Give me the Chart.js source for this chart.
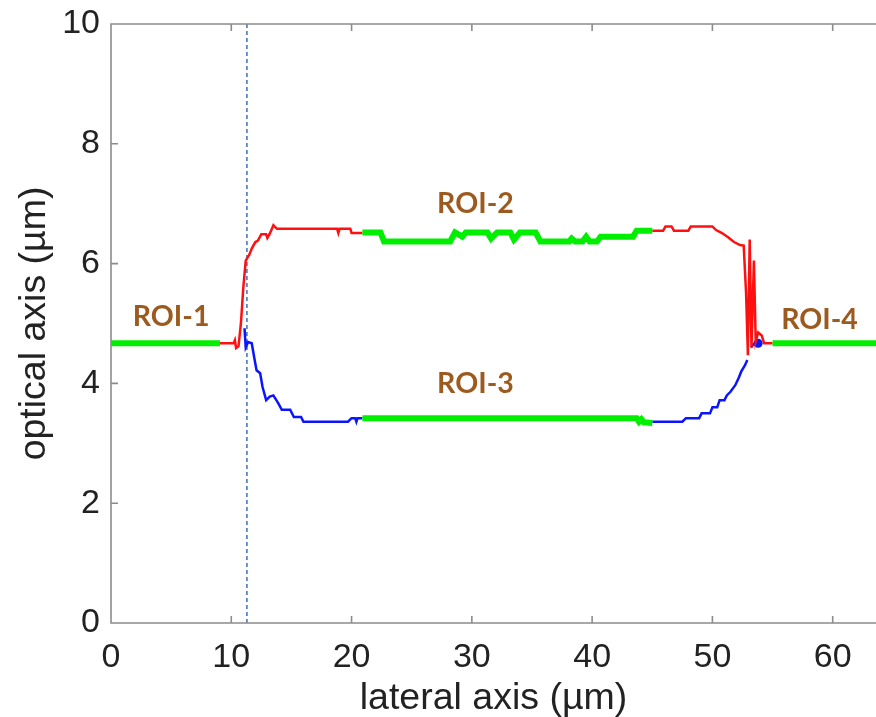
<!DOCTYPE html>
<html>
<head>
<meta charset="utf-8">
<script src="https://cdn.jsdelivr.net/npm/chart.js@4/dist/chart.umd.min.js"></script>
<style>
  html, body { margin: 0; padding: 0; background: #fff; overflow: hidden; }
  canvas { display: block; }
</style>
</head>
<body>
<canvas id="profile" width="876" height="717"></canvas>
<script>
// boundary profile (lateral um, optical um)
const roi1 = [[0, 4.67], [9.06, 4.67]];
const roi2 = [[20.9, 6.52], [22.4, 6.52], [22.7, 6.37], [28.2, 6.37], [28.6, 6.52], [29.2, 6.45], [29.5, 6.52],
  [31.3, 6.52], [31.6, 6.42], [32.1, 6.52], [33.2, 6.52], [33.5, 6.4], [34.0, 6.52], [35.3, 6.52], [35.7, 6.37],
  [38.1, 6.37], [38.3, 6.42], [38.6, 6.37], [39.2, 6.37], [39.5, 6.45], [39.8, 6.37], [40.4, 6.37], [40.7, 6.45],
  [43.4, 6.45], [43.7, 6.55], [45.0, 6.55]];
const roi3 = [[20.9, 3.42], [43.7, 3.42], [43.9, 3.36], [44.1, 3.4], [44.3, 3.35], [45.0, 3.34]];
const roi4 = [[55.0, 4.67], [64, 4.67]];

const upperLeft = [[9.06, 4.67], [10.2, 4.67], [10.3, 4.72], [10.4, 4.59], [10.6, 4.62], [10.8, 5.0], [11.0, 5.6],
  [11.2, 6.05], [11.5, 6.15], [11.7, 6.25], [12.0, 6.36], [12.2, 6.38], [12.5, 6.49], [12.9, 6.49], [13.0, 6.43],
  [13.2, 6.5], [13.5, 6.64], [13.8, 6.58], [18.8, 6.58], [18.9, 6.51], [19.0, 6.58], [19.9, 6.58], [20.0, 6.51],
  [20.9, 6.51]];
const upperRight = [[45.0, 6.55], [45.9, 6.55], [46.1, 6.62], [46.6, 6.62], [46.8, 6.55], [48.0, 6.55], [48.2, 6.62],
  [50.0, 6.62], [50.3, 6.56], [50.8, 6.51], [51.3, 6.44], [51.8, 6.36], [52.3, 6.31], [52.6, 6.3], [52.8, 5.5],
  [52.95, 4.47], [53.1, 6.4], [53.25, 4.6], [53.45, 6.05], [53.6, 4.7], [53.8, 4.85], [54.1, 4.8], [54.3, 4.67],
  [55.0, 4.67]];

const lowerLeft = [[11.1, 4.92], [11.2, 4.6], [11.4, 4.69], [11.7, 4.67], [11.9, 4.44], [12.1, 4.22], [12.4, 4.17],
  [12.6, 3.94], [12.9, 3.72], [13.2, 3.78], [13.5, 3.8], [13.9, 3.67], [14.2, 3.56], [14.9, 3.56], [15.2, 3.44],
  [15.8, 3.44], [16.0, 3.36], [19.7, 3.36], [20.0, 3.42], [20.3, 3.42], [20.4, 3.36], [20.5, 3.42], [20.9, 3.42]];
const lowerRight = [[45.0, 3.36], [47.5, 3.36], [47.8, 3.42], [48.9, 3.42], [49.1, 3.5], [49.8, 3.5], [50.0, 3.6],
  [50.4, 3.6], [50.6, 3.72], [51.0, 3.72], [51.2, 3.8], [51.5, 3.86], [51.9, 3.97], [52.2, 4.1], [52.4, 4.2],
  [52.7, 4.3], [52.9, 4.39]];
const lowerTail = [[53.2, 4.6], [53.5, 4.67], [53.7, 4.69]];
const lowerDot = [[53.8, 4.67]];

const dashLineX = 11.3;

const roiNames = ['ROI-1', 'ROI-2', 'ROI-3', 'ROI-4'];
const roiX = [5.0, 30.3, 30.3, 58.9];
const roiY = [5.11, 7.0, 3.99, 5.06];

const xTicks = [0, 10, 20, 30, 40, 50, 60];
const yTicks = [0, 2, 4, 6, 8, 10];

const pts = arr => arr.map(p => ({x: p[0], y: p[1]}));

const GREEN = '#00ee00', RED = '#ff1010', BLUE = '#0a14ff', AXIS = '#8c8c8c';
const FONT = '"Liberation Sans", Arial, sans-serif';

function curve(data, color, width, order) {
  return {data: pts(data), showLine: true, borderColor: color, backgroundColor: color,
    borderWidth: width, pointRadius: 0, tension: 0, order: order};
}

// MATLAB style axes with inward ticks (right side is cut off in the figure), plus ROI labels
const boxPlugin = {
  id: 'box',
  afterDatasetsDraw(chart) {
    const {ctx, chartArea: a, scales: {x, y}} = chart;
    ctx.save();
    ctx.strokeStyle = AXIS;
    ctx.lineWidth = 1.6;
    ctx.beginPath();
    ctx.moveTo(a.right + 2, a.top);
    ctx.lineTo(a.left, a.top);
    ctx.lineTo(a.left, a.bottom);
    ctx.lineTo(a.right + 2, a.bottom);
    xTicks.forEach(v => {
      const px = x.getPixelForValue(v);
      ctx.moveTo(px, a.bottom); ctx.lineTo(px, a.bottom - 7);
      ctx.moveTo(px, a.top); ctx.lineTo(px, a.top + 7);
    });
    yTicks.forEach(v => {
      const py = y.getPixelForValue(v);
      ctx.moveTo(a.left, py); ctx.lineTo(a.left + 7, py);
    });
    ctx.stroke();

    ctx.fillStyle = '#9c5a1f';
    ctx.font = 'bold 28.5px Lato, "Open Sans", sans-serif';
    ctx.textAlign = 'center';
    ctx.textBaseline = 'middle';
    roiNames.forEach((t, i) => {
      ctx.fillText(t, x.getPixelForValue(roiX[i]), y.getPixelForValue(roiY[i]));
    });
    ctx.restore();
  }
};

new Chart(document.getElementById('profile'), {
  type: 'scatter',
  data: {
    datasets: [
      curve(roi1, GREEN, 6, 0),
      curve(roi2, GREEN, 6, 0),
      curve(roi3, GREEN, 6, 0),
      curve(roi4, GREEN, 6, 0),
      curve(upperLeft, RED, 2.5, 1),
      curve(upperRight, RED, 2.5, 1),
      curve(lowerLeft, BLUE, 2.5, 1),
      curve(lowerRight, BLUE, 2.5, 1),
      curve(lowerTail, BLUE, 2.5, 1),
      {data: pts(lowerDot), pointRadius: 4.5, pointBorderWidth: 0, backgroundColor: BLUE, order: 1},
      {data: [{x: dashLineX, y: 0}, {x: dashLineX, y: 10}], showLine: true, borderColor: '#3d6fc0',
        borderWidth: 1.5, borderDash: [4, 3], pointRadius: 0, order: 2}
    ]
  },
  options: {
    responsive: false,
    animation: false,
    layout: {autoPadding: false, padding: {top: 24, right: 0, bottom: 0, left: 0}},
    plugins: {legend: {display: false}, tooltip: {enabled: false}},
    scales: {
      x: {
        type: 'linear', min: 0, max: 63.6,
        afterFit: s => { s.height = 94; s.paddingLeft = 0; s.paddingRight = 0; },
        afterBuildTicks: s => { s.ticks = xTicks.map(v => ({value: v})); },
        grid: {display: false, drawTicks: false}, border: {display: false},
        ticks: {padding: 14, color: '#222', font: {family: FONT, size: 34}, maxRotation: 0},
        title: {display: true, text: 'lateral axis (\u00b5m)', color: '#222',
          font: {family: FONT, size: 37.5, lineHeight: 1}, padding: {top: 0, bottom: 0}}
      },
      y: {
        type: 'linear', min: 0, max: 10,
        afterFit: s => { s.width = 111; s.paddingTop = 0; s.paddingBottom = 0; },
        afterBuildTicks: s => { s.ticks = yTicks.map(v => ({value: v})); },
        grid: {display: false, drawTicks: false}, border: {display: false},
        ticks: {padding: 11, color: '#222', font: {family: FONT, size: 34}},
        title: {display: true, text: 'optical axis (\u00b5m)', color: '#222',
          font: {family: FONT, size: 37.5, lineHeight: 1}, padding: {top: 16, bottom: 0}}
      }
    }
  },
  plugins: [boxPlugin]
});
</script>
</body>
</html>
